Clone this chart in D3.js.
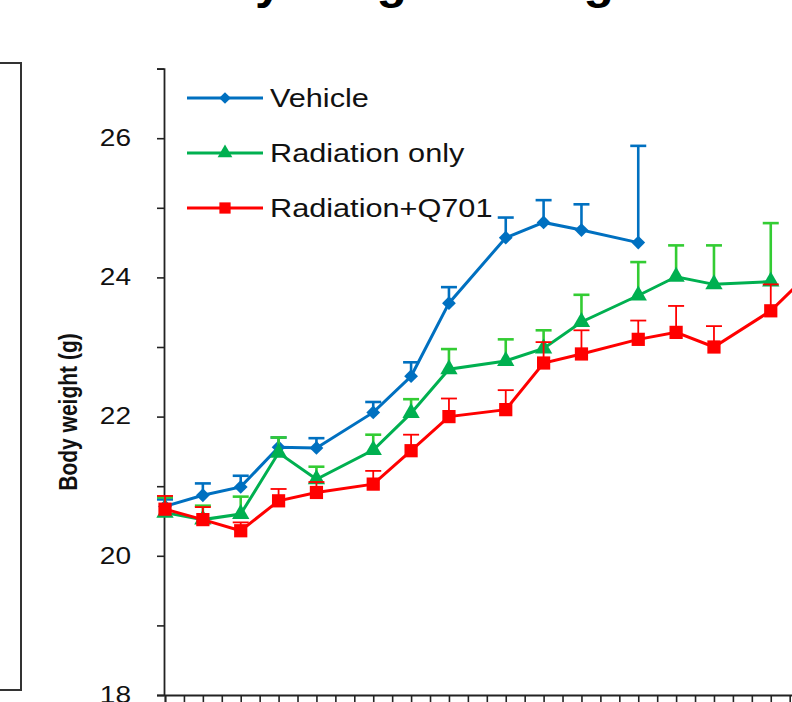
<!DOCTYPE html>
<html>
<head>
<meta charset="utf-8">
<script src="https://cdn.jsdelivr.net/npm/d3@7"></script>
<style>
  body { margin: 0; background: #fff; }
  svg { display: block; font-family: "Liberation Sans", Arial, sans-serif; }
</style>
</head>
<body>
<div id="grafica"></div>
<script>
// Datos (dias y peso en g)
const dias = [0, 2, 4, 6, 8, 11, 13, 15, 18, 20, 22, 25, 27, 29, 32, 34]

const vehicle    = [20.71, 20.87, 20.99, 21.56, 21.55, 22.06, 22.58, 23.63, 24.57, 24.79, 24.68, 24.50]
const vehicleErr = [0.10, 0.17, 0.16, 0.14, 0.14, 0.15, 0.20, 0.23, 0.29, 0.32, 0.37, 1.39]

const radiation    = [20.62, 20.52, 20.60, 21.48, 21.10, 21.52, 22.05, 22.68, 22.80, 22.98, 23.36, 23.74, 24.01, 23.90, 23.94]
const radiationErr = [0.22, 0.20, 0.25, 0.22, 0.18, 0.22, 0.20, 0.29, 0.31, 0.26, 0.39, 0.48, 0.45, 0.56, 0.84]

const q701    = [20.67, 20.52, 20.36, 20.79, 20.91, 21.03, 21.51, 22.00, 22.10, 22.77, 22.90, 23.11, 23.21, 23.00, 23.52, 24.05]
const q701Err = [0.19, 0.18, 0.12, 0.17, 0.15, 0.19, 0.23, 0.26, 0.28, 0.30, 0.34, 0.27, 0.38, 0.30, 0.38, 0.30]

const yTicks = [18, 19, 20, 21, 22, 23, 24, 25, 26, 27]
const yLabels = [18, 20, 22, 24, 26]

const titulo = "Body weight change"
const ejeY = "Body weight (g)"

const anchoTotal = 792
const altoTotal = 702

// Escaladores
const x = d3.scaleLinear().domain([0, 34]).range([165, 165 + 34 * 18.93])
const y = d3.scaleLinear().domain([18, 27]).range([695, 68.6])

const svg = d3.select("#grafica").append("svg")
    .attr("width", anchoTotal)
    .attr("height", altoTotal)

// Caja del panel vecino (izquierda)
svg.append("rect")
    .attr("x", -10).attr("y", 63)
    .attr("width", 31).attr("height", 627)
    .attr("fill", "none")
    .attr("stroke", "#333")
    .attr("stroke-width", 2)

// Titulo (cortado arriba, solo se ven los trazos descendentes)
svg.append("text")
    .attr("transform", "translate(400,-2) scale(1.08,1)")
    .attr("text-anchor", "middle")
    .attr("font-size", 46)
    .attr("font-weight", "bold")
    .text(titulo)

// Ejes
const yAxis = d3.axisLeft(y)
    .tickValues(yTicks)
    .tickSize(7)
    .tickFormat(d => yLabels.includes(d) ? d : "")

const yAxisGroup = svg.append("g")
    .attr("transform", `translate(${x(0) - 1},0)`)
    .call(yAxis)
yAxisGroup.select(".domain").attr("stroke", "#222").attr("stroke-width", 1.8)
yAxisGroup.selectAll(".tick line").attr("stroke", "#222").attr("stroke-width", 1.6)
yAxisGroup.selectAll(".tick text")
    .attr("x", 0)
    .attr("transform", "translate(-33,0) scale(1.22,1)")
    .attr("font-size", 23)
    .attr("fill", "#111")
    .attr("font-family", "Liberation Sans, Arial, sans-serif")

const xAxis = d3.axisBottom(x)
    .tickValues(d3.range(0, 35))
    .tickSize(7)
    .tickFormat("")

const xAxisGroup = svg.append("g")
    .attr("transform", `translate(0,${y(18)})`)
    .call(xAxis)
xAxisGroup.select(".domain").attr("stroke", "#222").attr("stroke-width", 1.8)
xAxisGroup.selectAll(".tick line").attr("stroke", "#222").attr("stroke-width", 1.6)

// Etiqueta eje Y
svg.append("text")
    .attr("transform", "translate(77,412) scale(1.25,1) rotate(-90)")
    .attr("text-anchor", "middle")
    .attr("font-size", 21)
    .attr("font-weight", "bold")
    .attr("fill", "#111")
    .text(ejeY)

// Series
const series = [
    { nombre: "Vehicle", valores: vehicle, errores: vehicleErr, color: "#0070C0", colorErr: "#0070C0", anchoErr: 2.6, forma: d3.symbolSquare, tam: 95, giro: 45 },
    { nombre: "Radiation only", valores: radiation, errores: radiationErr, color: "#00B050", colorErr: "#33CC33", anchoErr: 2.6, forma: d3.symbolTriangle, tam: 130, giro: 0 },
    { nombre: "Radiation+Q701", valores: q701, errores: q701Err, color: "#FF0000", colorErr: "#FF0000", anchoErr: 1.8, forma: d3.symbolSquare, tam: 175, giro: 0 },
]

const linea = d3.line()
    .x(d => x(d.dia))
    .y(d => y(d.valor))

series.forEach(s => {
    const datos = s.valores.map((v, i) => ({ dia: dias[i], valor: v, err: s.errores[i] }))
    const g = svg.append("g")

    // Barras de error (solo hacia arriba)
    const err = g.append("g").attr("stroke", s.colorErr).attr("stroke-width", s.anchoErr)
    err.selectAll(".stem").data(datos).enter()
        .append("line")
        .attr("x1", d => x(d.dia)).attr("x2", d => x(d.dia))
        .attr("y1", d => y(d.valor)).attr("y2", d => y(d.valor + d.err))
    err.selectAll(".cap").data(datos).enter()
        .append("line")
        .attr("x1", d => x(d.dia) - 8).attr("x2", d => x(d.dia) + 8)
        .attr("y1", d => y(d.valor + d.err)).attr("y2", d => y(d.valor + d.err))

    g.append("path")
        .datum(datos)
        .attr("d", linea)
        .attr("fill", "none")
        .attr("stroke", s.color)
        .attr("stroke-width", 3)

    g.selectAll(".marca").data(datos).enter()
        .append("path")
        .attr("transform", d => `translate(${x(d.dia)},${y(d.valor)}) rotate(${s.giro})`)
        .attr("d", d3.symbol(s.forma, s.tam))
        .attr("fill", s.color)
})

// Leyenda
const leyenda = svg.append("g")
const posLeyenda = [98, 153, 208]
series.forEach((s, i) => {
    const item = leyenda.append("g").attr("transform", `translate(0,${posLeyenda[i]})`)
    item.append("line")
        .attr("x1", 187).attr("x2", 263)
        .attr("stroke", s.color).attr("stroke-width", 3)
    item.append("path")
        .attr("transform", `translate(225,0) rotate(${s.giro}) scale(0.85)`)
        .attr("d", d3.symbol(s.forma, s.tam))
        .attr("fill", s.color)
    item.append("text")
        .attr("transform", "translate(270,9) scale(1.18,1)")
        .attr("font-size", 26)
        .attr("fill", "#111")
        .text(s.nombre)
})
</script>
</body>
</html>
